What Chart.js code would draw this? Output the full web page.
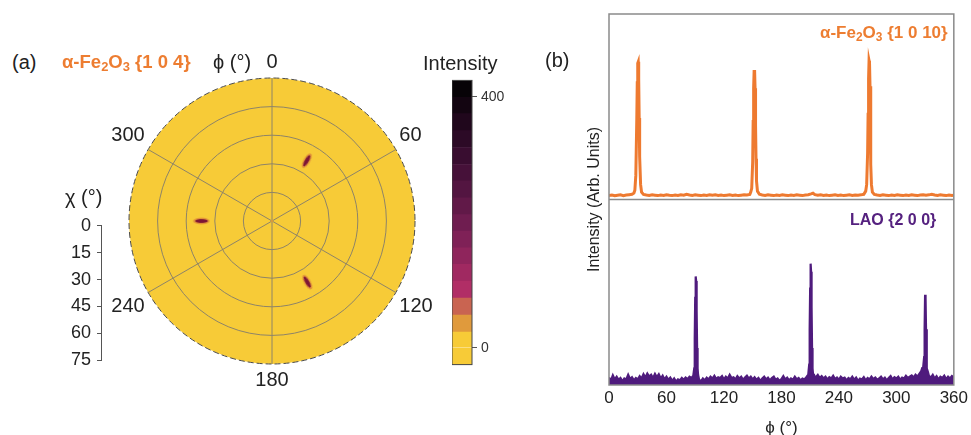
<!DOCTYPE html>
<html>
<head>
<meta charset="utf-8">
<script src="https://cdn.jsdelivr.net/npm/chart.js@4.4.1/dist/chart.umd.min.js"></script>
<style>
  html, body { margin: 0; padding: 0; background: #fff; }
  body { width: 971px; height: 435px; position: relative; overflow: hidden;
         font-family: "Liberation Sans", Arial, sans-serif; color: #222; }
  canvas { position: absolute; }
  .lbl { position: absolute; white-space: nowrap; line-height: 1; }
  .lbl sub { font-size: 0.7em; vertical-align: -0.25em; line-height: 0; }
  .orange { color: #ED7D31; font-weight: bold; }
  .purple { color: #55217F; font-weight: bold; }
</style>
</head>
<body>
<canvas id="pole" width="343" height="343" style="left:101px;top:50px"></canvas>
<canvas id="chi" width="70" height="168" style="left:40px;top:209px"></canvas>
<canvas id="cbar" width="60" height="309" style="left:452px;top:68px"></canvas>
<canvas id="phi" width="396" height="441" style="left:575px;top:0px"></canvas>

<div class="lbl" style="left:12px;top:52px;font-size:20px">(a)</div>
<div class="lbl orange" style="left:62px;top:53px;font-size:18.5px">α-Fe<sub>2</sub>O<sub>3</sub> {1 0 4}</div>
<div class="lbl" style="left:213px;top:52px;font-size:20px">ϕ (°)</div>
<div class="lbl" style="left:423px;top:53px;font-size:20px">Intensity</div>
<div class="lbl" style="left:65px;top:187px;font-size:20px">χ (°)</div>
<div class="lbl" style="left:545px;top:50px;font-size:20px">(b)</div>
<div class="lbl orange" style="left:820px;top:24px;font-size:17px">α-Fe<sub>2</sub>O<sub>3</sub> {1 0 10}</div>
<div class="lbl purple" style="left:850px;top:212px;font-size:16px">LAO {2 0 0}</div>

<script>
// pole figure (a): phi positions every 30 deg, chi of the spots
const phiLabels = ['0', '30', '60', '90', '120', '150', '180', '210', '240', '270', '300', '330'];
const spotChi = [null, 36.5, null, null, null, 37, null, null, null, 37, null, null];
const centreChi = [0, null, null, null, null, null, null, null, null, null, null, null];
const chiTicks = [0, 15, 30, 45, 60, 75];

// colour bar levels
const cbEdges = [-27, 0, 25, 52, 79, 106, 133, 159, 186, 212, 239, 266, 292, 319, 346, 373, 399, 426];
const cbColors = ['#F7CB37', '#F7CB37', '#E09A3C', '#C96451', '#B12E66', '#A02961', '#8F255C', '#7F2157',
    '#6F1D50', '#611948', '#531541', '#461139', '#390D30', '#2C0A26', '#20071C', '#130511', '#070307'];
const cbTicks = [0, 400];

// phi scans (b)
const phiTicks = [0, 60, 120, 180, 240, 300, 360];

const feoPhi = [
    0, 3, 6, 9, 12, 15, 18, 21, 24, 26,
    27, 28, 29, 29.5, 30, 30.5, 31, 31.5, 32, 33,
    34, 36, 39, 42, 45, 48, 51, 54, 57, 60,
    63, 66, 69, 72, 75, 78, 81, 84, 87, 90,
    93, 96, 99, 102, 105, 108, 111, 114, 117, 120,
    123, 126, 129, 132, 135, 138, 141, 144, 147, 148,
    149, 150, 150.5, 151, 151.5, 152, 152.5, 153, 153.5, 154,
    155, 157, 160, 163, 166, 169, 172, 175, 178, 181,
    184, 187, 190, 193, 196, 199, 202, 205, 208, 211,
    213, 215, 218, 221, 224, 227, 230, 233, 236, 239,
    242, 245, 248, 251, 254, 257, 260, 263, 266, 268,
    269, 270, 270.5, 271, 271.5, 272, 272.5, 273, 273.5, 274,
    275, 277, 280, 283, 286, 289, 292, 295, 298, 301,
    304, 307, 310, 313, 316, 319, 322, 325, 328, 331,
    334, 337, 340, 343, 346, 349, 352, 355, 358, 360
];
const feoInt = [
    22, 24, 20, 23, 25, 21, 24, 26, 28, 35,
    50, 130, 430, 630, 735, 742, 650, 440, 230, 80,
    40, 27, 24, 22, 25, 23, 21, 24, 22, 26,
    23, 21, 24, 22, 25, 23, 28, 24, 22, 25,
    23, 21, 24, 22, 26, 23, 25, 22, 24, 21,
    23, 25, 22, 24, 21, 23, 25, 24, 27, 40,
    60, 200, 420, 600, 690, 698, 600, 400, 220, 100,
    45, 28, 24, 22, 25, 23, 21, 24, 22, 25,
    23, 21, 24, 22, 25, 23, 21, 24, 26, 30,
    34, 26, 23, 25, 22, 24, 21, 23, 25, 22,
    24, 21, 23, 25, 22, 24, 23, 25, 28, 45,
    80, 250, 460, 650, 748, 735, 610, 380, 190, 80,
    40, 27, 24, 22, 25, 23, 21, 24, 22, 25,
    23, 21, 24, 22, 25, 23, 21, 24, 26, 23,
    25, 28, 24, 22, 25, 23, 21, 24, 22, 23
];

const laoPhi = [
    0, 2, 4, 6, 8, 10, 12, 14, 16, 18,
    20, 22, 24, 26, 28, 30, 32, 34, 36, 38,
    40, 42, 44, 46, 48, 50, 52, 54, 56, 58,
    60, 62, 64, 66, 68, 70, 72, 74, 76, 78,
    80, 82, 84, 86, 88, 89, 89.5, 90, 90.5, 91,
    91.5, 92, 92.5, 93, 94, 96, 98, 100, 102, 104,
    106, 108, 110, 112, 114, 116, 118, 120, 122, 124,
    126, 128, 130, 132, 134, 136, 138, 140, 142, 144,
    146, 148, 150, 152, 154, 156, 158, 160, 162, 164,
    166, 168, 170, 172, 174, 176, 178, 180, 182, 184,
    186, 188, 190, 192, 194, 196, 198, 200, 202, 204,
    206, 208, 209, 209.5, 210, 210.5, 211, 211.5, 212, 212.5,
    213, 214, 216, 218, 220, 222, 224, 226, 228, 230,
    232, 234, 236, 238, 240, 242, 244, 246, 248, 250,
    252, 254, 256, 258, 260, 262, 264, 266, 268, 270,
    272, 274, 276, 278, 280, 282, 284, 286, 288, 290,
    292, 294, 296, 298, 300, 302, 304, 306, 308, 310,
    312, 314, 316, 318, 320, 322, 324, 326, 327, 328,
    329, 329.5, 330, 330.5, 331, 331.5, 332, 333, 334, 336,
    338, 340, 342, 344, 346, 348, 350, 352, 354, 356,
    358, 360
];
const laoInt = [
    40, 25, 52, 30, 45, 28, 38, 20, 35, 30,
    55, 32, 42, 25, 38, 30, 48, 35, 58, 40,
    62, 45, 55, 38, 60, 42, 58, 35, 50, 30,
    45, 28, 40, 22, 35, 18, 30, 25, 38, 28,
    40, 32, 45, 38, 50, 90, 250, 470, 585, 560,
    400, 200, 90, 55, 30, 20, 35, 25, 40, 30,
    45, 35, 50, 32, 42, 38, 48, 30, 45, 35,
    55, 38, 42, 30, 48, 35, 45, 28, 40, 50,
    35, 45, 30, 42, 28, 38, 22, 35, 45, 30,
    40, 25, 38, 45, 28, 35, 22, 32, 48, 30,
    40, 25, 35, 28, 45, 30, 38, 25, 35, 30,
    42, 55, 110, 300, 520, 654, 610, 420, 200, 90,
    60, 50, 42, 55, 38, 48, 35, 45, 30, 42,
    35, 50, 32, 40, 28, 45, 35, 40, 25, 38,
    30, 45, 28, 40, 22, 35, 30, 42, 25, 38,
    30, 45, 32, 40, 28, 35, 45, 30, 40, 25,
    38, 48, 30, 42, 35, 45, 28, 40, 35, 50,
    38, 45, 52, 40, 55, 45, 60, 75, 92, 95,
    150, 300, 486, 470, 300, 140, 90, 70, 50, 40,
    55, 35, 48, 30, 45, 38, 50, 32, 45, 35,
    48, 40
];

Chart.defaults.font.family = '"Liberation Sans", Arial, sans-serif';
Chart.defaults.color = '#222';
Chart.defaults.animation = false;
Chart.defaults.events = [];
Chart.defaults.plugins.legend.display = false;
Chart.defaults.plugins.tooltip.enabled = false;

// outline round the chart area
const frame = {
    id: 'frame',
    afterDatasetsDraw(chart, args, opts) {
        const {ctx, chartArea: a} = chart;
        ctx.save();
        ctx.strokeStyle = opts.color;
        ctx.lineWidth = opts.width;
        ctx.strokeRect(a.left, a.top, a.right - a.left, a.bottom - a.top);
        if (opts.split) {
            const y = chart.scales[opts.split].bottom;
            ctx.beginPath();
            ctx.moveTo(a.left, y);
            ctx.lineTo(a.right, y);
            ctx.stroke();
        }
        ctx.restore();
    }
};

// elongated diffraction spot used as point style
function makeSpot() {
    const c = document.createElement('canvas');
    c.width = 8;
    c.height = 18;
    const g = c.getContext('2d');
    g.fillStyle = 'rgba(205, 95, 60, 0.5)';
    g.beginPath();
    g.ellipse(4, 9, 3.4, 8.3, 0, 0, Math.PI * 2);
    g.fill();
    g.fillStyle = '#7D1535';
    g.beginPath();
    g.ellipse(4, 9, 1.9, 6.3, 0, 0, Math.PI * 2);
    g.fill();
    return c;
}

const setTicks = list => axis => { axis.ticks = list.map(v => ({value: v})); };

new Chart(document.getElementById('pole'), {
    type: 'radar',
    data: {
        labels: phiLabels,
        datasets: [{
            data: spotChi,
            showLine: false,
            pointStyle: makeSpot(),
            rotation: c => c.dataIndex * 360 / phiLabels.length
        }, {
            data: centreChi,
            showLine: false,
            pointRadius: 1.3,
            pointBorderWidth: 0,
            pointBackgroundColor: '#D99A3A'
        }]
    },
    options: {
        responsive: false,
        layout: {padding: 0},
        scales: {
            r: {
                min: 0,
                max: 75,
                backgroundColor: '#F7CB37',
                afterBuildTicks: setTicks(chiTicks),
                ticks: {display: false},
                grid: {
                    circular: true,
                    color: c => c.index === chiTicks.length - 1 ? '#4a4a4a' : '#8E8468',
                    lineWidth: 1
                },
                border: {dash: c => c.index === chiTicks.length - 1 ? [6, 3] : []},
                angleLines: {
                    color: c => c.index % 2 ? 'rgba(0,0,0,0)' : '#8E8468',
                    lineWidth: c => c.index % 2 ? 0 : 1
                },
                pointLabels: {
                    font: {size: 20},
                    color: '#222',
                    padding: 4,
                    callback: (label, i) => i % 2 ? '' : label
                }
            }
        }
    }
});

new Chart(document.getElementById('chi'), {
    type: 'line',
    data: {labels: [], datasets: []},
    options: {
        responsive: false,
        layout: {padding: {top: 12, bottom: 12}},
        scales: {
            x: {display: false},
            y: {
                position: 'left',
                min: 0,
                max: 75,
                reverse: true,
                afterBuildTicks: setTicks(chiTicks),
                afterFit: a => { a.width = 61; },
                ticks: {font: {size: 18}, color: '#222', padding: 6},
                grid: {drawOnChartArea: false, tickLength: 4, color: '#555'},
                border: {color: '#555'}
            }
        }
    }
});

new Chart(document.getElementById('cbar'), {
    type: 'bar',
    data: {
        labels: [''],
        datasets: cbColors.map((col, i) => ({
            data: [[cbEdges[i], cbEdges[i + 1]]],
            backgroundColor: col,
            borderWidth: 0,
            grouped: false,
            barPercentage: 1,
            categoryPercentage: 1
        }))
    },
    options: {
        responsive: false,
        layout: {padding: {top: 12, bottom: 12}},
        scales: {
            x: {display: false},
            y: {
                position: 'right',
                min: cbEdges[0],
                max: cbEdges[cbEdges.length - 1],
                afterBuildTicks: setTicks(cbTicks),
                afterFit: a => { a.width = 40; },
                ticks: {font: {size: 14}, color: '#333', padding: 4},
                grid: {drawOnChartArea: false, tickLength: 5, color: '#555'},
                border: {display: false}
            }
        },
        plugins: {frame: {color: '#444', width: 1}}
    },
    plugins: [frame]
});

new Chart(document.getElementById('phi'), {
    type: 'line',
    data: {
        datasets: [{
            data: feoPhi.map((p, i) => ({x: p, y: feoInt[i]})),
            yAxisID: 'yTop',
            borderColor: '#EE7A30',
            borderWidth: 3,
            pointRadius: 0
        }, {
            data: laoPhi.map((p, i) => ({x: p, y: laoInt[i]})),
            yAxisID: 'yBot',
            borderColor: '#4F1B7D',
            backgroundColor: '#4F1B7D',
            fill: 'origin',
            borderWidth: 2.2,
            pointRadius: 0
        }]
    },
    options: {
        responsive: false,
        layout: {padding: {top: 14, right: 14}},
        scales: {
            x: {
                type: 'linear',
                min: 0,
                max: 360,
                afterBuildTicks: setTicks(phiTicks),
                afterFit: a => { a.height = 56; },
                ticks: {font: {size: 17}, color: '#222', padding: 3},
                grid: {display: false, drawTicks: false},
                border: {display: false},
                title: {display: true, text: 'ϕ (°)', font: {size: 17}, color: '#222', padding: {top: 0, bottom: 2}}
            },
            yBot: {position: 'left', stack: 'b', stackWeight: 1, min: 0, max: 1000, display: false},
            yTop: {position: 'left', stack: 'b', stackWeight: 1, min: 0, max: 1000, display: false},
            yTitle: {
                position: 'left',
                min: 0,
                max: 1,
                afterFit: a => { a.width = 34; },
                ticks: {display: false},
                grid: {display: false, drawTicks: false},
                border: {display: false},
                title: {display: true, text: 'Intensity (Arb. Units)', font: {size: 16}, color: '#222', padding: {top: 10, bottom: 0}}
            }
        },
        plugins: {frame: {color: '#8a8a8a', width: 1.5, split: 'yTop'}}
    },
    plugins: [frame]
});
</script>
</body>
</html>
